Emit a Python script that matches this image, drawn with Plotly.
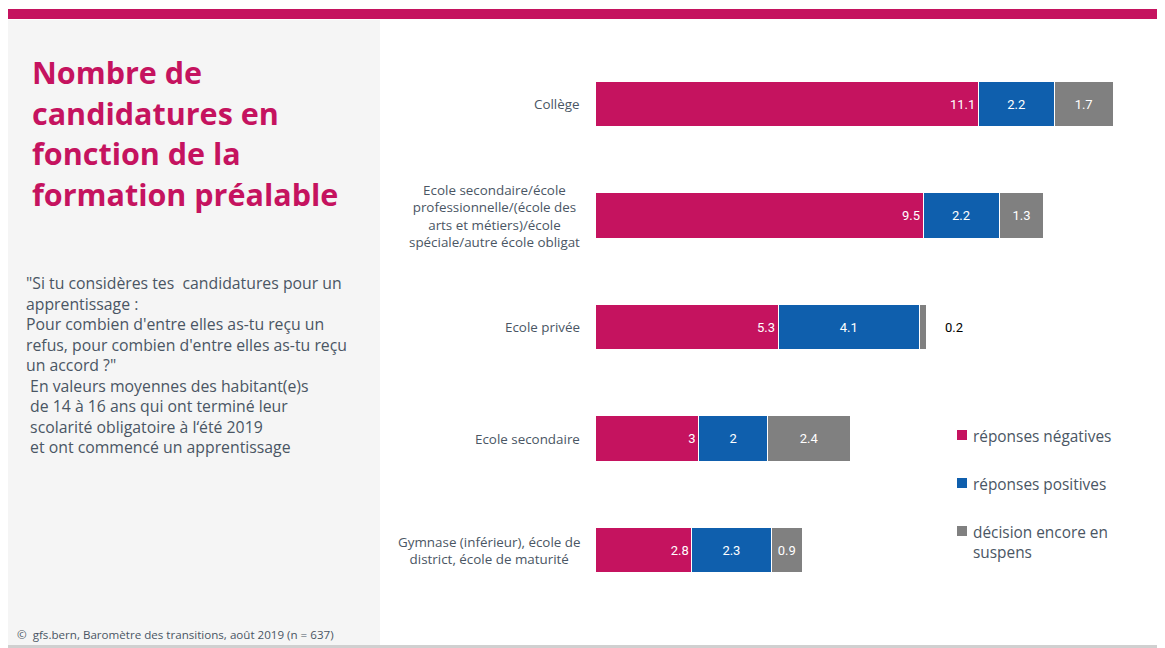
import plotly.graph_objects as go

W, H = 1165, 648

categories = [
    "Collège",
    "Ecole secondaire/école<br>professionnelle/(école des<br>arts et métiers)/école<br>spéciale/autre école obligat",
    "Ecole privée",
    "Ecole secondaire",
    "Gymnase (inférieur), école de<br>district, école de maturité",
]
negatives = [11.1, 9.5, 5.3, 3, 2.8]
positives = [2.2, 2.2, 4.1, 2, 2.3]
pending = [1.7, 1.3, 0.2, 2.4, 0.9]
series_names = ["réponses négatives", "réponses positives", "décision encore en<br>suspens"]
colors = ["#C5135F", "#0F5FAD", "#808080"]

title_lines = ["Nombre de", "candidatures en", "fonction de la", "formation préalable"]
body_text = ("\"Si tu considères tes  candidatures pour un<br>apprentissage :<br>"
             "Pour combien d'entre elles as-tu reçu un<br>refus, pour combien d'entre elles as-tu reçu<br>"
             "un accord ?\"<br> En valeurs moyennes des habitant(e)s<br> de 14 à 16 ans qui ont terminé leur<br>"
             " scolarité obligatoire à l‘été 2019<br> et ont commencé un apprentissage")
source = "©  gfs.bern, Baromètre des transitions, août 2019 (n = 637)"

TXT = "#4A5664"
FONT = "Open Sans"
OFF = 8  # page body margin


def px(x):
    return (x - OFF) / W


def py(y):
    return 1 - (y - OFF) / H


fig = go.Figure()
series = [negatives, positives, pending]
for i, (vals, name, col) in enumerate(zip(series, series_names, colors)):
    texts = [("" if v < 0.5 else f"{v:g}") for v in vals]
    fig.add_trace(go.Bar(
        y=categories, x=vals, orientation="h", name=name,
        marker=dict(color=col, line=dict(color="white", width=1)),
        text=texts, textposition="inside",
        insidetextanchor="end" if i == 0 else "middle",
        insidetextfont=dict(color="white", size=13, family="Roboto"),
        constraintext="none", width=0.41, showlegend=False,
        hoverinfo="x+y",
    ))

# small values shown outside the bar
totals = [a + b + c for a, b, c in zip(negatives, positives, pending)]
annotations = []
for cat, v, t in zip(categories, pending, totals):
    if v < 0.5:
        annotations.append(dict(x=t, y=cat, xref="x", yref="y", text=f"{v:g}", showarrow=False,
                                xanchor="left", xshift=16, font=dict(color="black", size=13, family="Roboto")))

# category labels
for cat in categories:
    annotations.append(dict(x=0, y=cat, xref="x", yref="y", text=cat, showarrow=False,
                            xanchor="right", align="center", xshift=-13,
                            font=dict(color=TXT, size=13.4, family=FONT)))

# title
for k, line in enumerate(title_lines):
    annotations.append(dict(x=px(30), y=py(72 + k * 40.5), xref="paper", yref="paper", text=f"<b>{line}</b>",
                            showarrow=False, xanchor="left", yanchor="middle",
                            font=dict(color="#C5135F", size=30.5, family=FONT)))

annotations.append(dict(x=px(24), y=py(270), xref="paper", yref="paper", text=body_text,
                        showarrow=False, xanchor="left", yanchor="top", align="left",
                        font=dict(color=TXT, size=15.8, family=FONT)))
annotations.append(dict(x=px(15), y=py(634), xref="paper", yref="paper", text=source,
                        showarrow=False, xanchor="left", yanchor="middle", align="left",
                        font=dict(color=TXT, size=11.6, family=FONT)))

shapes = [
    dict(type="rect", xref="paper", yref="paper", x0=px(8), x1=1, y0=py(19), y1=py(9),
         fillcolor="#C5135F", line=dict(width=0), layer="below"),
    dict(type="rect", xref="paper", yref="paper", x0=px(8), x1=px(380), y0=py(645), y1=py(20),
         fillcolor="#F5F5F5", line=dict(width=0), layer="below"),
    dict(type="rect", xref="paper", yref="paper", x0=px(8), x1=1, y0=py(649), y1=py(645),
         fillcolor="#D0D0D0", line=dict(width=0), layer="below"),
]

# legend (manual)
leg_y = [435, 483, 531]
for name, col, yy in zip(series_names, colors, leg_y):
    shapes.append(dict(type="rect", xref="paper", yref="paper", x0=px(957), x1=px(967),
                       y0=py(yy + 5), y1=py(yy - 5), fillcolor=col, line=dict(width=0)))
    annotations.append(dict(x=px(971), y=py(yy - 11), xref="paper", yref="paper", text=name,
                            showarrow=False, xanchor="left", yanchor="top", align="left",
                            font=dict(color=TXT, size=15.4, family=FONT)))

fig.update_layout(
    width=W, height=H, barmode="stack",
    margin=dict(l=0, r=0, t=0, b=0),
    paper_bgcolor="white", plot_bgcolor="rgba(0,0,0,0)",
    xaxis=dict(domain=[px(595), px(1113)], range=[0, 15], visible=False),
    yaxis=dict(domain=[py(605.75), py(48.25)], range=[4.5, -0.5], visible=False,
               categoryorder="array", categoryarray=categories),
    shapes=shapes, annotations=annotations,
)

fig.write_html("out.html")
